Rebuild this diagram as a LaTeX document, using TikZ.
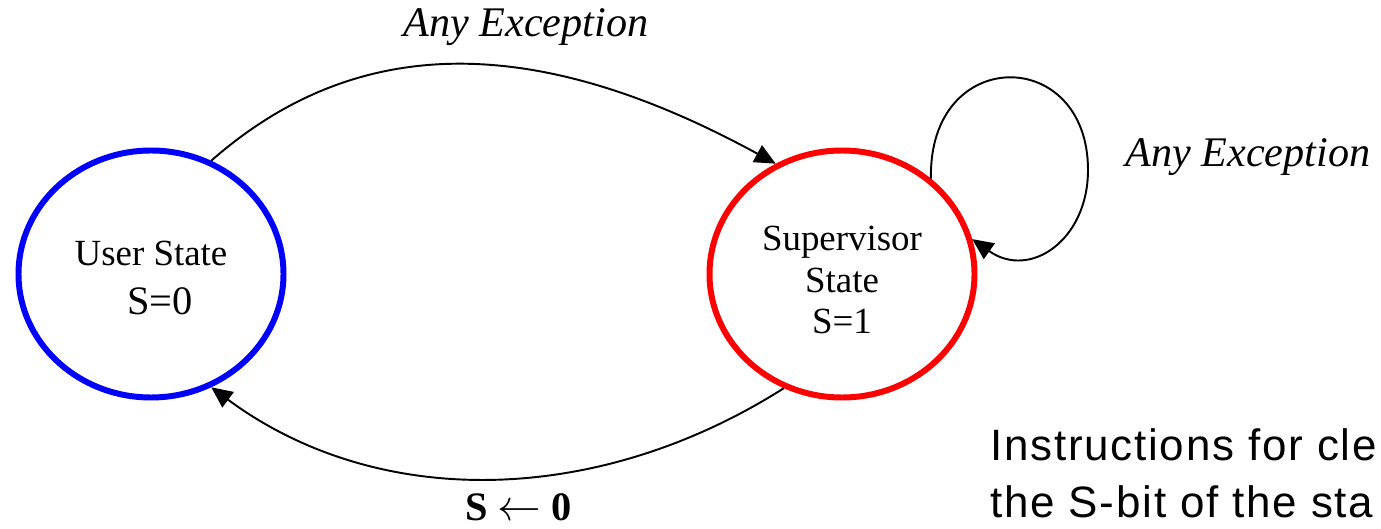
\documentclass[tikz,border=0pt]{standalone}
\usepackage{fontspec}
\setmainfont{Liberation Serif}
\newfontfamily\instrfont[LetterSpace=4]{Liberation Sans}
\usetikzlibrary{shapes.geometric,arrows.meta}

\begin{document}
\begin{tikzpicture}[x=1cm,y=1cm,
  statenode/.style={ellipse,inner sep=0pt,line width=3.4pt,minimum width=5.3cm,minimum height=4.94cm},
  statetext/.style={align=center,font=\fontsize{21}{23.6}\selectfont},
  transarrow/.style={line width=1.1pt,-{Triangle[length=0.42cm,width=0.38cm]}},
  trlabel/.style={anchor=base,font=\fontsize{24}{28}\selectfont\itshape}]
\useasboundingbox (0,0) rectangle (27.62,10.56);
% states
\node[statenode,draw=blue] (user) at (3.02,5.08) {};
\node[statenode,draw=red] (sup) at (16.84,5.08) {};
\node[statetext] (usertext) at (3.02,5.0) {User State\\[4.8pt]\hspace*{0.36cm}{\fontsize{23}{23.6}\selectfont S=0}};
\node[statetext] (suptext) at (16.84,4.96) {Supervisor\\State\\S=1};
% transitions
\draw[transarrow] (user.62.6) .. controls (7.2,9.96) and (10.8,9.86) .. (sup.121);
\draw[transarrow] (sup.243) .. controls (12.0,0.46) and (7.6,0.32) .. (user.298);
% self loop on supervisor
\coordinate (loopR) at (21.76,7.16);
\draw[transarrow] (sup.47) .. controls (18.56,9.66) and (21.76,9.66) .. (loopR)
  .. controls (21.76,5.76) and (20.6,4.96) .. (sup.15);
% labels
\node[trlabel] (exc1) at (10.52,9.82) {Any Exception};
\node[trlabel] (exc2) at (24.96,7.22) {Any Exception};
\node[anchor=base,font=\fontsize{23}{28}\selectfont\bfseries] (clr) at (10.37,0.16) {S $\leftarrow$ 0};
\node[anchor=base west,align=left,inner sep=0pt,font=\fontsize{25}{31.9}\selectfont\instrfont] (instr) at (19.8,0.22) {Instructions for cle\\the S-bit of the sta};
\end{tikzpicture}
\end{document}
